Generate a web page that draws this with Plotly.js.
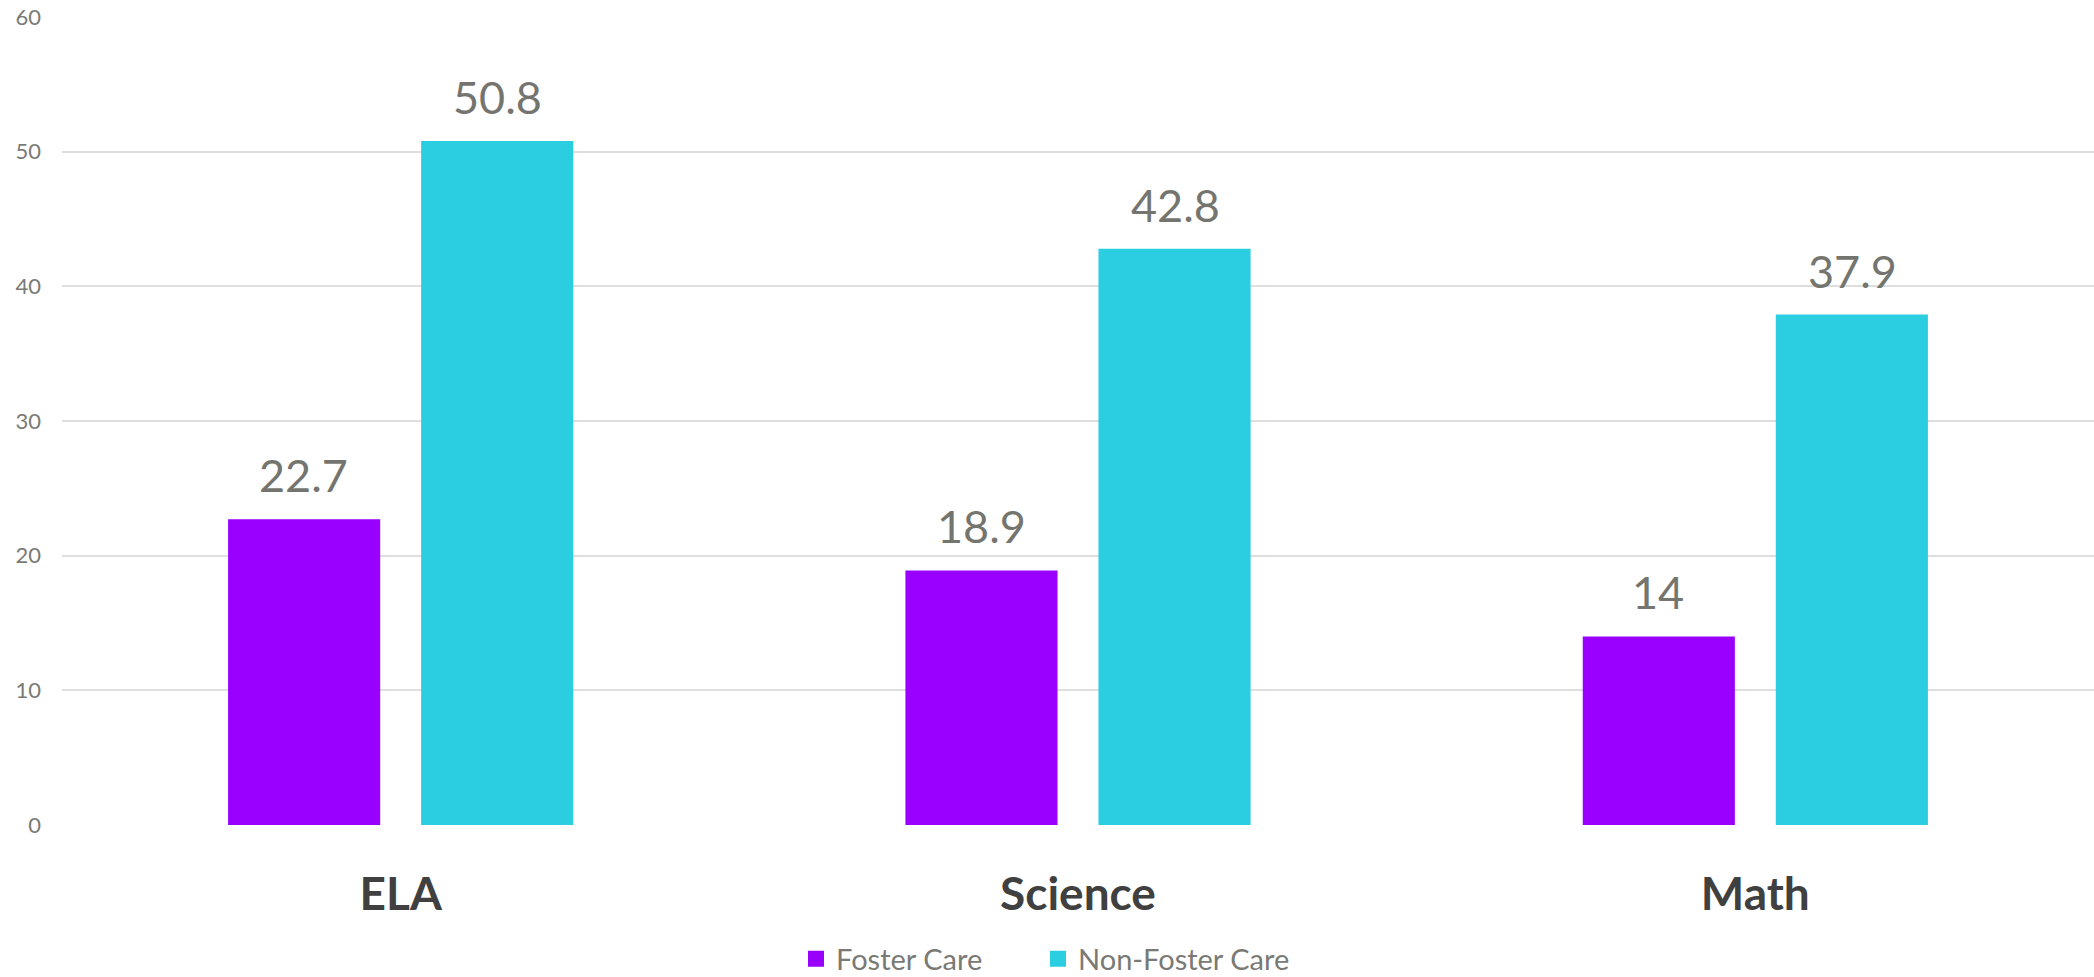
<!DOCTYPE html>
<html>
<head>
<meta charset="utf-8">
<script src="https://cdn.plot.ly/plotly-3.0.1.min.js"></script>
<style>html,body{margin:0;padding:0;background:#fff;}#chart{width:2094px;height:977px;}</style>
</head>
<body>
<div id="chart"></div>
<script>
const categories = ["ELA", "Science", "Math"];
const fosterCare = [22.7, 18.9, 14];
const nonFosterCare = [50.8, 42.8, 37.9];
const seriesNames = ["Foster Care", "Non-Foster Care"];
const seriesColors = ["#9900ff", "#2bcde1"];
const yTicks = [0, 10, 20, 30, 40, 50, 60];

const FONT = "Lato, 'Open Sans', sans-serif";
const labelFont = {family: FONT, size: 45, color: "#75756f"};
const series = [fosterCare, nonFosterCare];
const barShift = [-97, 97];
const legendIds = ["legend", "legend2"];
const legendX = [796 / 2094, 1038 / 2094];

const traces = [];
series.forEach((vals, s) => {
  traces.push({type: "bar", name: seriesNames[s], x: categories, y: vals,
    marker: {color: seriesColors[s]}, showlegend: false, hoverinfo: "x+y"});
});
series.forEach((vals, s) => {
  traces.push({type: "scatter", mode: "markers", name: seriesNames[s], x: [null], y: [null],
    legend: legendIds[s],
    marker: {symbol: "square", size: 17, color: seriesColors[s]}, showlegend: true, hoverinfo: "skip"});
});

const annotations = [];
series.forEach((vals, s) => {
  vals.forEach((v, i) => {
    annotations.push({x: categories[i], y: v, xref: "x", yref: "y", text: String(v),
      showarrow: false, xanchor: "center", yanchor: "bottom", xshift: barShift[s], yshift: 15,
      font: labelFont});
  });
});

function legendCfg(i) {
  return {orientation: "h", xref: "container", x: legendX[i], xanchor: "left",
          yref: "container", y: 0.0184, yanchor: "middle",
          font: {family: FONT, size: 29, color: "#7a7a75"},
          itemsizing: "trace", itemclick: false, bgcolor: "rgba(0,0,0,0)"};
}

const layout = {
  width: 2094, height: 977,
  margin: {l: 62, r: 0, t: 17, b: 152},
  paper_bgcolor: "#ffffff", plot_bgcolor: "#ffffff",
  barmode: "group", bargap: 0.43, bargroupgap: 0.212,
  showlegend: true,
  legend: legendCfg(0),
  legend2: legendCfg(1),
  annotations: annotations,
  xaxis: {type: "category", showgrid: false, zeroline: false, showline: false, ticks: "", automargin: false,
          tickfont: {family: FONT, size: 46, color: "#404040", weight: "bold"},
          ticklabelstandoff: 38},
  yaxis: {range: [0, 60], tickvals: yTicks, ticktext: yTicks.map(String), automargin: false,
          showgrid: true, gridcolor: "#dedede", gridwidth: 2, zeroline: false, showline: false,
          ticks: "", tickfont: {family: FONT, size: 22, color: "#7a7a75"},
          ticklabelstandoff: 20}
};

Plotly.newPlot("chart", traces, layout, {displayModeBar: false, staticPlot: true});
</script>
</body>
</html>
